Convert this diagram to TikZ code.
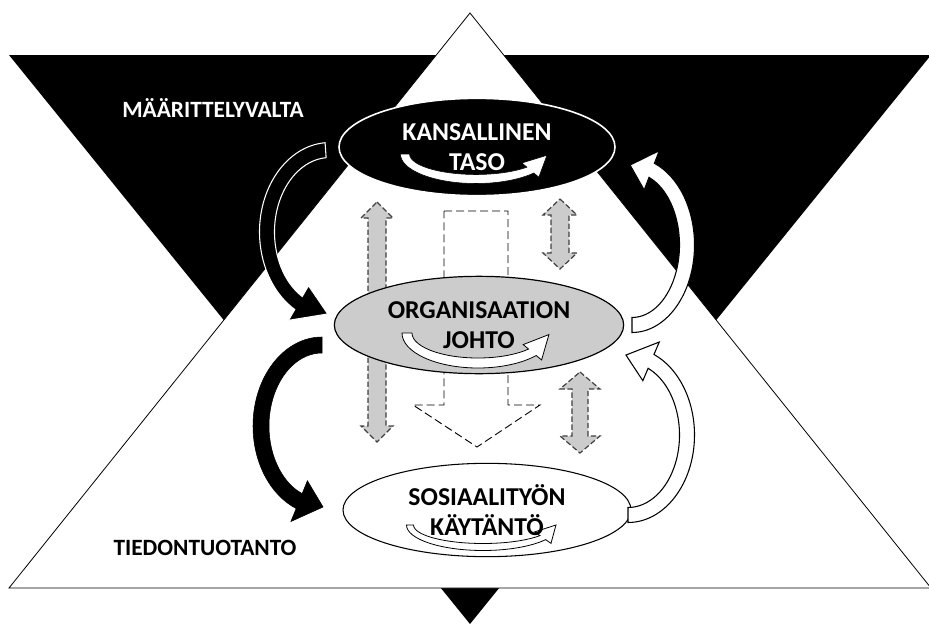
\documentclass[tikz,border=0pt]{standalone}
\usepackage{fontspec}
\setmainfont{Carlito}
\usetikzlibrary{shapes.geometric}
\definecolor{lightgrey}{RGB}{204,204,204}
\definecolor{dashgrey}{RGB}{64,64,64}

\tikzset{
  level/.style={ellipse, inner sep=0pt},
  leveltext/.style={inner sep=0pt, align=center, font=\fontsize{19.3}{22.5}\selectfont\bfseries},
  sidelabel/.style={inner sep=0pt, font=\fontsize{17.5}{20}\selectfont\bfseries},
  flowbar/.style={fill=lightgrey, draw=dashgrey, dash pattern=on 4pt off 2pt, line width=0.9pt},
}

% bent block arrow: centre, rx, ry, start angle, end angle, tip angle, half width, half head, style
\newcommand\bentarrow[9]{%
  \begin{scope}[shift={#1}]
    \draw[#9] ({#4}:{#2+#7} and {#3+#7}) arc[start angle=#4, end angle=#5, x radius={#2+#7}, y radius={#3+#7}]
      -- ({#5}:{#2+#8} and {#3+#8}) -- ({#6}:#2 and #3) -- ({#5}:{#2-#8} and {#3-#8})
      -- ({#5}:{#2-#7} and {#3-#7}) arc[start angle=#5, end angle=#4, x radius={#2-#7}, y radius={#3-#7}] -- cycle;
  \end{scope}}

% vertical double block arrow: x, top, bottom, half shaft, half head, head length
\newcommand\vtwoarrow[6]{%
  \draw[flowbar] (#1,#2) -- ({#1+#5},{#2+#6}) -- ({#1+#4},{#2+#6}) -- ({#1+#4},{#3-#6}) -- ({#1+#5},{#3-#6})
    -- (#1,#3) -- ({#1-#5},{#3-#6}) -- ({#1-#4},{#3-#6}) -- ({#1-#4},{#2+#6}) -- ({#1-#5},{#2+#6}) -- cycle;}

\begin{document}
\begin{tikzpicture}[x=0.75pt,y=0.75pt,yscale=-1,xscale=1]
\useasboundingbox (0,0) rectangle (929,625);
\fill[white] (0,0) rectangle (929,625);

%Shape: Triangle (power, pointing down)
\fill[black] (9,55) -- (931,55) -- (470,624) -- cycle;
%Shape: Triangle (knowledge, pointing up)
\draw[fill=white, line width=0.6pt] (470,13) -- (931,588) -- (9,588) -- cycle;

%Vertical flows
\vtwoarrow{377}{202}{442}{9}{16}{16}
\vtwoarrow{560}{199}{269}{9}{17}{16}
\vtwoarrow{580}{372}{453}{8}{20}{17}
%Shape: big dashed arrow down
\draw[fill=white, dash pattern=on 6pt off 3pt, line width=0.7pt] (444,211) -- (508,211) -- (508,405) -- (540,405)
  -- (477,447) -- (413,405) -- (444,405) -- cycle;

%Levels
\node[level, fill=black, draw=white, line width=1.2pt, minimum width=207pt, minimum height=73pt] (kans) at (477,147) {};
\node[level, fill=lightgrey, draw=black, line width=0.9pt, minimum width=217pt, minimum height=73pt] (org) at (479,325) {};
\node[level, fill=white, draw=black, line width=0.8pt, minimum width=216pt, minimum height=70pt] (sos) at (487,510) {};

%Loops inside the levels
\bentarrow{(476,154)}{71}{25}{180}{40}{3}{4.5}{11}{fill=white}
\bentarrow{(478,333)}{71}{30}{180}{40}{3}{5}{12}{fill=white, draw=black, line width=0.6pt}
\bentarrow{(483,525)}{73}{22}{180}{35}{0}{3.5}{10}{fill=white, draw=black, line width=0.6pt}

% Text Node
\node[leveltext, text=white] (kanstext) at (kans) {KANSALLINEN\\TASO};
% Text Node
\node[leveltext] (orgtext) at (org) {ORGANISAATION\\JOHTO};
% Text Node
\node[leveltext] (sostext) at (sos) {SOSIAALITYÖN\\KÄYTÄNTÖ};

%Bent arrows between the levels
\bentarrow{(330,232)}{63}{82}{266}{120}{92}{7.5}{20}{fill=black, draw=white, line width=0.8pt}
\bentarrow{(632,245)}{55}{80}{90}{-69}{-92}{7.5}{21}{fill=white, draw=black, line width=0.8pt}
\bentarrow{(322,426)}{61}{81}{270}{112}{89}{8}{22}{fill=black, draw=black}
\bentarrow{(628,435)}{59}{80}{90}{-67}{-92}{7.5}{21}{fill=white, draw=black, line width=0.8pt}

% Text Node
\node[sidelabel, text=white] (power) at (213,108) {MÄÄRITTELYVALTA};
% Text Node
\node[sidelabel] (knowledge) at (205,548) {TIEDONTUOTANTO};

\end{tikzpicture}
\end{document}
